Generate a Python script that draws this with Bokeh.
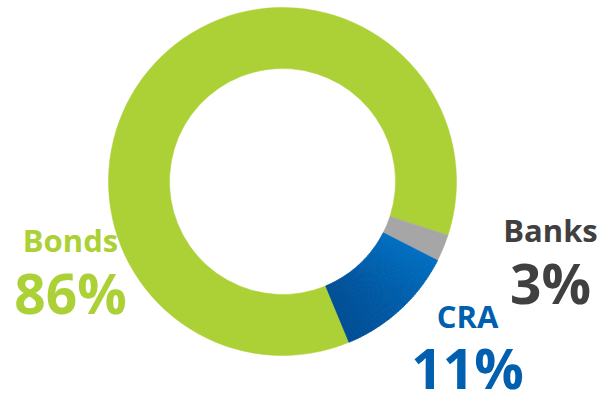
import numpy as np
from bokeh.plotting import figure
from bokeh.models import Range1d, ColumnDataSource
from bokeh.core.properties import value
from bokeh.embed import file_html
from bokeh.resources import INLINE

# ---- data ----
categories = ["Bonds", "CRA", "Banks"]
shares = [86.25, 11.25, 2.5]          # slice sizes as drawn
pct_labels = ["86%", "11%", "3%"]       # printed labels
slice_colors = ["#acd136", "#0062b2", "#a6a6a6"]
label_colors = ["#acd136", "#005fae", "#404040"]

# ---- layout / style ----
W, H = 616, 393
CX, CY = 282, H - 181
R_OUT, R_IN = 174, 113
START_DEG = -18.0
CRA_TOP = np.array([0x00, 0x76, 0xcc])
CRA_BOT = np.array([0x00, 0x40, 0x82])
NAME_SHIFT, PCT_SHIFT = 13, 20
label_pos = {"Bonds": (70, 252, 312),
             "CRA": (467, 328, 387),
             "Banks": (550, 242, 302)}

p = figure(width=W, height=H, x_range=Range1d(0, W), y_range=Range1d(0, H),
           output_backend="svg", toolbar_location=None, min_border=0)
p.xaxis.visible = False
p.yaxis.visible = False
p.grid.visible = False
p.outline_line_color = None

total = sum(shares)
angles = np.cumsum([0] + [s / total * 2 * np.pi for s in shares])
start = np.deg2rad(START_DEG)
starts = start + angles[:-1]
ends = start + angles[1:]

main_idx = [i for i, c in enumerate(categories) if c != "CRA"]
src = ColumnDataSource(dict(
    x=[CX] * len(main_idx), y=[CY] * len(main_idx),
    s=[starts[i] for i in main_idx], e=[ends[i] for i in main_idx],
    c=[slice_colors[i] for i in main_idx]))
p.annular_wedge(x="x", y="y", inner_radius=R_IN, outer_radius=R_OUT,
                start_angle="s", end_angle="e", fill_color="c", line_color="c",
                line_width=0.5, source=src)

# CRA slice with a vertical gradient, approximated by thin sub-wedges
ci = categories.index("CRA")
N = 40
sub = np.linspace(starts[ci], ends[ci], N + 1)
rm = (R_IN + R_OUT) / 2
ymid = np.sin((sub[:-1] + sub[1:]) / 2) * rm
ylo = min(np.sin(starts[ci]) * R_OUT, np.sin(ends[ci]) * R_OUT)
yhi = np.sin(ends[ci]) * R_IN
t = np.clip((yhi - ymid) / (yhi - ylo), 0, 1)
cols = ["#%02x%02x%02x" % tuple((CRA_TOP + (CRA_BOT - CRA_TOP) * tt).astype(int)) for tt in t]
src2 = ColumnDataSource(dict(x=[CX] * N, y=[CY] * N, s=sub[:-1], e=sub[1:], c=cols))
p.annular_wedge(x="x", y="y", inner_radius=R_IN, outer_radius=R_OUT,
                start_angle="s", end_angle="e", fill_color="c", line_color="c",
                line_width=0.8, source=src2)

# labels
names_x, names_y, pct_y = [], [], []
for c in categories:
    lx, ny, py = label_pos[c]
    names_x.append(lx)
    names_y.append(H - (ny - NAME_SHIFT))
    pct_y.append(H - (py - PCT_SHIFT))
lsrc = ColumnDataSource(dict(x=names_x, ny=names_y, py=pct_y, name=categories,
                             pct=pct_labels, col=label_colors))
p.text(x="x", y="ny", text="name", source=lsrc, text_color="col",
       text_font=value("Open Sans"), text_font_style="bold", text_font_size="31px",
       text_align="center", text_baseline="alphabetic")
p.text(x="x", y="py", text="pct", source=lsrc, text_color="col",
       text_font=value("Open Sans"), text_font_style="bold", text_font_size="55px",
       text_align="center", text_baseline="alphabetic")

open("out.html", "w").write(file_html(p, INLINE))
